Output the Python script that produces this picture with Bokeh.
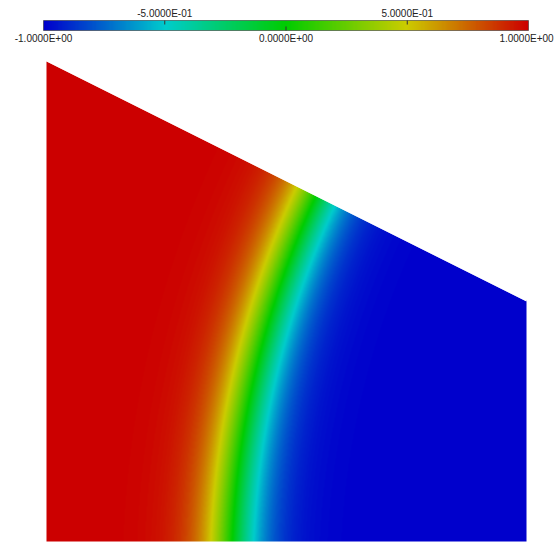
import numpy as np
from bokeh.plotting import figure
from bokeh.layouts import column
from bokeh.models import LinearColorMapper, Range1d, ColumnDataSource
from bokeh.core.properties import value
from bokeh.embed import file_html
from bokeh.resources import INLINE

# ---------------- data ----------------
# trapezoidal domain (counter-clockwise from bottom-left)
domain_x = [0.0, 1.0, 1.0, 0.0]
domain_y = [0.0, 0.0, 0.5, 1.0]

# scalar field range
field_min = -1.0
field_max = 1.0

# curved transition front (circle arc)
front_center_x = 2.296
front_center_y = -0.081
front_radius = 1.911
front_width = 0.082

# colour bar
cbar_ticks = [-1.0, -0.5, 0.0, 0.5, 1.0]
cbar_labels = ["-1.0000E+00", "-5.0000E-01", "0.0000E+00", "5.0000E-01", "1.0000E+00"]
cbar_side = ["below", "above", "below", "above", "below"]

# colour map anchors (value, rgb)
cmap_values = [-1.0, -0.5, 0.0, 0.5, 1.0]
cmap_colors = [(0, 0, 204), (0, 204, 204), (0, 204, 0), (204, 204, 0), (204, 0, 0)]

# ---------------- palette ----------------
n_pal = 256
pv = np.linspace(field_min, field_max, n_pal)
cr = np.interp(pv, cmap_values, [c[0] for c in cmap_colors])
cg = np.interp(pv, cmap_values, [c[1] for c in cmap_colors])
cb_ = np.interp(pv, cmap_values, [c[2] for c in cmap_colors])
palette = ["#%02x%02x%02x" % (int(round(a)), int(round(b)), int(round(c))) for a, b, c in zip(cr, cg, cb_)]
mapper = LinearColorMapper(palette=palette, low=field_min, high=field_max, nan_color=(0, 0, 0, 0))

FONT = value("Liberation Sans")

# ---------------- colour bar figure ----------------
W = 555
CB_H = 54
cb_scale = 242.5
cb_left_px = 43
cbx0 = field_min - cb_left_px / cb_scale
cbx1 = cbx0 + W / cb_scale
cb = figure(width=W, height=CB_H, x_range=Range1d(cbx0, cbx1), y_range=Range1d(0, CB_H),
            output_backend="svg", toolbar_location=None, min_border=0,
            x_axis_location=None, y_axis_location=None)
cb.grid.visible = False
cb.outline_line_color = None
cb.background_fill_color = "white"
cb.border_fill_color = "white"

bar_bottom, bar_top = 24, 34
grad = np.linspace(field_min, field_max, 600)[None, :]
cb.image(image=[grad], x=field_min, y=bar_bottom, dw=field_max - field_min, dh=bar_top - bar_bottom,
         color_mapper=mapper)
cb.quad(left=[field_min], right=[field_max], bottom=[bar_bottom], top=[bar_top],
        fill_color=None, line_color="#2a2a2a", line_alpha=0.55, line_width=1)

tick_y0, tick_y1, lab_y, offs = [], [], [], []
for i, (t, s) in enumerate(zip(cbar_ticks, cbar_side)):
    if s == "above":
        tick_y0.append(bar_top); tick_y1.append(bar_top - 4); lab_y.append(41)
    else:
        tick_y0.append(bar_bottom); tick_y1.append(bar_bottom + 4); lab_y.append(16)
    offs.append(-2 if i == len(cbar_ticks) - 1 else 0)

cb.segment(x0=cbar_ticks[1:-1], x1=cbar_ticks[1:-1], y0=tick_y0[1:-1], y1=tick_y1[1:-1],
           line_color="#333333", line_width=1)
lab_src = ColumnDataSource(dict(x=cbar_ticks, y=lab_y, text=cbar_labels, xo=offs))
cb.text(x="x", y="y", text="text", x_offset="xo", source=lab_src, text_font=FONT,
        text_font_size="10px", text_color="#222222", text_align="center",
        text_baseline="alphabetic")

# ---------------- main field figure ----------------
MAIN_H = 544 - CB_H
scale = 480.0
x_left_px = 46
y0_px = 487  # canvas row of y = 0
mx0 = -x_left_px / scale
mx1 = mx0 + W / scale
my0 = (y0_px - MAIN_H) / scale
my1 = y0_px / scale
p = figure(width=W, height=MAIN_H, x_range=Range1d(mx0, mx1), y_range=Range1d(my0, my1),
           output_backend="svg", toolbar_location=None, min_border=0,
           x_axis_location=None, y_axis_location=None)
p.grid.visible = False
p.outline_line_color = None
p.background_fill_color = "white"
p.border_fill_color = "white"

xmin, xmax = min(domain_x), max(domain_x)
ymin, ymax = min(domain_y), max(domain_y)
N = 960
gx = xmin + (np.arange(N) + 0.5) / N * (xmax - xmin)
gy = ymin + (np.arange(N) + 0.5) / N * (ymax - ymin)
X, Y = np.meshgrid(gx, gy)
R = np.hypot(X - front_center_x, Y - front_center_y)
F = np.tanh((R - front_radius) / front_width)
y_edge = domain_y[3] + (domain_y[2] - domain_y[3]) * (X - domain_x[3]) / (domain_x[2] - domain_x[3])
F[Y > y_edge] = np.nan

p.image(image=[F], x=xmin, y=ymin, dw=xmax - xmin, dh=ymax - ymin, color_mapper=mapper)

# clean slanted top edge
p.patch(x=[domain_x[3], domain_x[2], domain_x[2] + 0.01, domain_x[3] - 0.01],
        y=[domain_y[3], domain_y[2], my1 + 0.01, my1 + 0.01],
        fill_color="white", line_color=None)

layout = column(cb, p, spacing=0)
open("out.html", "w").write(file_html(layout, INLINE))
